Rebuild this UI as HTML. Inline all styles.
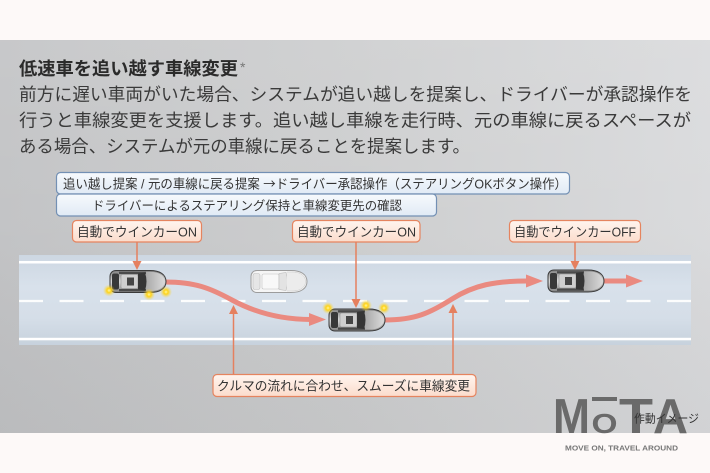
<!DOCTYPE html>
<html><head><meta charset="utf-8">
<style>
html,body{margin:0;padding:0;background:#fdf9f8;}
svg{display:block;}
text{font-family:"Liberation Sans","Noto Sans CJK JP",sans-serif;}
</style></head>
<body>
<svg width="710" height="473" viewBox="0 0 710 473" xmlns="http://www.w3.org/2000/svg">
<defs>
  <linearGradient id="panel" x1="0" y1="0" x2="1" y2="0">
    <stop offset="0" stop-color="#c0c1c3"/>
    <stop offset="0.5" stop-color="#cbcccd"/>
    <stop offset="1" stop-color="#d8d9db"/>
  </linearGradient>
  <linearGradient id="panelV" x1="0" y1="0" x2="0" y2="1">
    <stop offset="0" stop-color="#ffffff" stop-opacity="0.12"/>
    <stop offset="0.5" stop-color="#ffffff" stop-opacity="0.04"/>
    <stop offset="1" stop-color="#000000" stop-opacity="0.03"/>
  </linearGradient>
  <linearGradient id="road" x1="0" y1="0" x2="0" y2="1">
    <stop offset="0" stop-color="#cdd7e2"/>
    <stop offset="0.35" stop-color="#d8e1eb"/>
    <stop offset="0.7" stop-color="#d5dee8"/>
    <stop offset="1" stop-color="#c7d2dd"/>
  </linearGradient>
  <linearGradient id="blueBox" x1="0" y1="0" x2="0" y2="1">
    <stop offset="0" stop-color="#f7fafd"/>
    <stop offset="1" stop-color="#e0eaf5"/>
  </linearGradient>
  <linearGradient id="peachBox" x1="0" y1="0" x2="0" y2="1">
    <stop offset="0" stop-color="#fff5ef"/>
    <stop offset="1" stop-color="#fbdccc"/>
  </linearGradient>
  <linearGradient id="carBody" x1="0" y1="0" x2="0" y2="1">
    <stop offset="0" stop-color="#7e7e7e"/>
    <stop offset="0.45" stop-color="#d4d4d4"/>
    <stop offset="0.55" stop-color="#d4d4d4"/>
    <stop offset="1" stop-color="#7e7e7e"/>
  </linearGradient>
  <linearGradient id="hood" x1="0" y1="0" x2="1" y2="0">
    <stop offset="0" stop-color="#a9a9a9"/>
    <stop offset="1" stop-color="#d9d9d9"/>
  </linearGradient>
  <radialGradient id="glow">
    <stop offset="0" stop-color="#fff8a0"/>
    <stop offset="0.35" stop-color="#ffd31a"/>
    <stop offset="0.7" stop-color="#ffd31a" stop-opacity="0.35"/>
    <stop offset="1" stop-color="#ffd31a" stop-opacity="0"/>
  </radialGradient>
  <g id="car">
    <path d="M6,0 H40 C50,0 56,4 56,11 C56,18 50,22 40,22 H6 C2,22 0,19 0,16 V6 C0,3 2,0 6,0 Z" fill="url(#carBody)" stroke="#3a3a3a" stroke-width="1"/>
    <path d="M36,1.5 H41 C49,1.5 54.5,5 54.5,11 C54.5,17 49,20.5 41,20.5 H36 Z" fill="url(#hood)"/>
    <rect x="2" y="3" width="7" height="16" rx="2" fill="#383838"/>
    <rect x="9" y="1.2" width="27" height="2.3" fill="#4a4a4a"/>
    <rect x="9" y="18.5" width="27" height="2.3" fill="#4a4a4a"/>
    <rect x="11" y="4" width="17" height="14" rx="1.5" fill="#cfcfcf" stroke="#8a8a8a" stroke-width="0.5"/>
    <rect x="17" y="7" width="7" height="8" fill="#454545"/>
    <path d="M28,3 L35,2 Q38,11 35,20 L28,19 Z" fill="#353535"/>
  </g>
  <g id="ghost">
    <path d="M6,0 H40 C50,0 56,4 56,11 C56,18 50,22 40,22 H6 C2,22 0,19 0,16 V6 C0,3 2,0 6,0 Z" fill="#f5f5f5" stroke="#9c9c9c" stroke-width="1"/>
    <rect x="2" y="3" width="7" height="16" rx="2" fill="#e6e6e6" stroke="#bdbdbd" stroke-width="0.6"/>
    <rect x="11" y="3.5" width="17" height="15" rx="1.5" fill="#f8f8f8" stroke="#c2c2c2" stroke-width="0.6"/>
    <path d="M28,3 L35,2 Q38,11 35,20 L28,19 Z" fill="#e3e3e3" stroke="#bdbdbd" stroke-width="0.6"/>
    <path d="M36,1.5 H41 C49,1.5 54.5,5 54.5,11 C54.5,17 49,20.5 41,20.5 H36" fill="#ececec" stroke="#c8c8c8" stroke-width="0.5"/>
  </g>
</defs>

<!-- backgrounds -->
<rect x="0" y="0" width="710" height="473" fill="#fdf9f8"/>
<rect x="0" y="40" width="710" height="393" fill="url(#panel)"/>
<rect x="0" y="40" width="710" height="393" fill="url(#panelV)"/>

<!-- header text -->
<text x="19" y="75" font-size="18" font-weight="bold" fill="#2b2b2b" textLength="219" lengthAdjust="spacingAndGlyphs">低速車を追い越す車線変更</text>
<text x="240" y="72" font-size="14" fill="#777">*</text>
<text x="19" y="100.5" font-size="17.5" fill="#3a3a3a" textLength="673" lengthAdjust="spacingAndGlyphs">前方に遅い車両がいた場合、システムが追い越しを提案し、ドライバーが承認操作を</text>
<text x="19" y="126.5" font-size="17.5" fill="#3a3a3a" textLength="672" lengthAdjust="spacingAndGlyphs">行うと車線変更を支援します。追い越し車線を走行時、元の車線に戻るスペースが</text>
<text x="19" y="152.5" font-size="17.5" fill="#3a3a3a" textLength="451" lengthAdjust="spacingAndGlyphs">ある場合、システムが元の車線に戻ることを提案します。</text>

<!-- blue boxes -->
<rect x="56.5" y="172.5" width="513" height="21.5" rx="4" fill="url(#blueBox)" stroke="#7390b4" stroke-width="1.2"/>
<text x="63" y="188.5" font-size="13" fill="#333" textLength="504" lengthAdjust="spacingAndGlyphs">追い越し提案 / 元の車線に戻る提案 <tspan style="font-family:'Noto Sans CJK JP',sans-serif">→</tspan>ドライバー承認操作（ステアリングOKボタン操作）</text>
<rect x="56.5" y="194" width="380" height="22" rx="4" fill="url(#blueBox)" stroke="#7390b4" stroke-width="1.2"/>
<text x="92" y="210" font-size="12.5" fill="#333" textLength="310" lengthAdjust="spacingAndGlyphs">ドライバーによるステアリング保持と車線変更先の確認</text>

<!-- peach callouts -->
<rect x="72.5" y="220.5" width="129" height="21.5" rx="4" fill="url(#peachBox)" stroke="#e5845f" stroke-width="1.2"/>
<text x="77" y="236.3" font-size="13" fill="#333" textLength="120" lengthAdjust="spacingAndGlyphs">自動でウインカーON</text>
<rect x="292.5" y="220.5" width="127.5" height="21.5" rx="4" fill="url(#peachBox)" stroke="#e5845f" stroke-width="1.2"/>
<text x="297" y="236.3" font-size="13" fill="#333" textLength="119" lengthAdjust="spacingAndGlyphs">自動でウインカーON</text>
<rect x="509.5" y="220.5" width="131" height="21.5" rx="4" fill="url(#peachBox)" stroke="#e5845f" stroke-width="1.2"/>
<text x="514" y="236.3" font-size="13" fill="#333" textLength="122" lengthAdjust="spacingAndGlyphs">自動でウインカーOFF</text>

<!-- road -->
<rect x="19" y="255" width="672" height="90" fill="url(#road)"/>
<rect x="19" y="261" width="672" height="2.5" fill="#ffffff"/>
<rect x="19" y="337.8" width="672" height="2.5" fill="#ffffff"/>
<line x1="19" y1="301" x2="691" y2="301" stroke="#ffffff" stroke-width="2.2" stroke-dasharray="24 16.5" opacity="0.95"/>

<!-- trajectory arrows -->
<g fill="none" stroke="#ea8a80" stroke-width="5" stroke-linecap="butt">
  <path d="M165,282 C195,282 210,288 232,300 S280,319.5 311,319.5"/>
  <path d="M385,320 C415,320 430,313 452,299 S495,281 528,281"/>
  <path d="M603,281 L628,281"/>
</g>
<g fill="#ea8a80">
  <polygon points="309,313 326,319.5 309,326"/>
  <polygon points="526,274.5 543,281 526,287.5"/>
  <polygon points="626,274.5 643,281 626,287.5"/>
</g>

<!-- cars -->
<use href="#ghost" x="251" y="270.5"/>
<use href="#car" x="110" y="270.5"/>
<use href="#car" x="329" y="309"/>
<use href="#car" x="548" y="270"/>

<!-- blinkers -->
<g fill="url(#glow)">
  <circle cx="109" cy="290.5" r="6"/>
  <circle cx="149" cy="294.5" r="6"/>
  <circle cx="166" cy="292" r="6"/>
  <circle cx="328" cy="308" r="6"/>
  <circle cx="366" cy="305.5" r="6"/>
  <circle cx="384" cy="308" r="6"/>
</g>

<!-- callout connectors -->
<g stroke="#e5805f" stroke-width="1.5" fill="none">
  <line x1="137" y1="242" x2="137" y2="262"/>
  <line x1="356" y1="242" x2="356" y2="300"/>
  <line x1="575" y1="242" x2="575" y2="262"/>
  <line x1="233.5" y1="374" x2="233.5" y2="313"/>
  <line x1="453" y1="374" x2="453" y2="312"/>
</g>
<g fill="#e5805f">
  <polygon points="132.5,261 141.5,261 137,270"/>
  <polygon points="351.5,299 360.5,299 356,308"/>
  <polygon points="570.5,261 579.5,261 575,270"/>
  <polygon points="229,314 238,314 233.5,305"/>
  <polygon points="448.5,313 457.5,313 453,304"/>
</g>

<!-- bottom callout -->
<rect x="213" y="374.5" width="263" height="22" rx="4" fill="url(#peachBox)" stroke="#e5845f" stroke-width="1.2"/>
<text x="217" y="390.5" font-size="13" fill="#333" textLength="253" lengthAdjust="spacingAndGlyphs">クルマの流れに合わせ、スムーズに車線変更</text>

<!-- logo -->
<g fill="#6a6a6a" font-weight="bold">
  <text x="553" y="433" font-size="49" textLength="37" lengthAdjust="spacingAndGlyphs">M</text>
  <text x="591.5" y="433" font-size="28" textLength="26" lengthAdjust="spacingAndGlyphs">O</text>
  <rect x="592" y="397" width="25" height="4"/>
  <text x="619" y="433" font-size="49" textLength="34" lengthAdjust="spacingAndGlyphs">T</text>
  <text x="653" y="433" font-size="49" textLength="35" lengthAdjust="spacingAndGlyphs">A</text>
</g>
<text x="565" y="450.5" font-size="7.5" font-weight="bold" fill="#777" textLength="113" lengthAdjust="spacingAndGlyphs">MOVE ON, TRAVEL AROUND</text>
<text x="634" y="422.5" font-size="11.5" fill="#333" textLength="65" lengthAdjust="spacingAndGlyphs">作動イメージ</text>
</svg>
</body></html>
